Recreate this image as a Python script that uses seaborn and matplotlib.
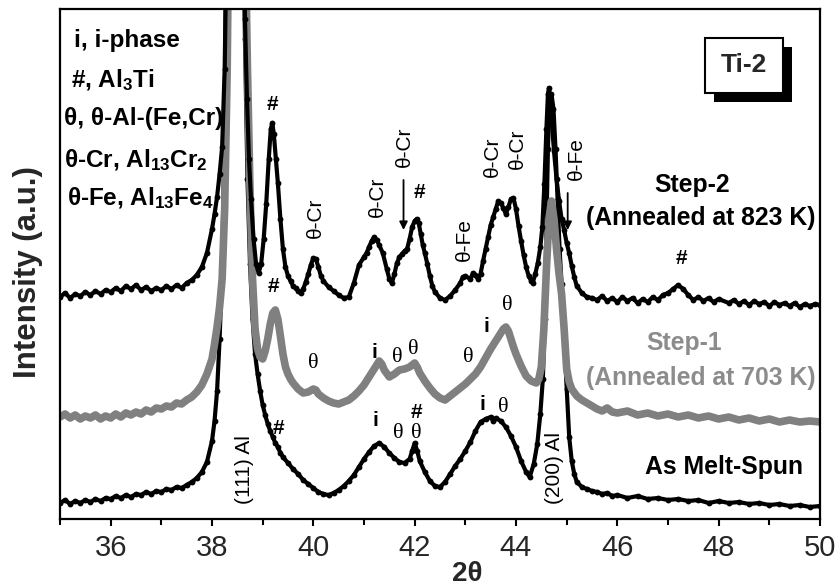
import matplotlib
matplotlib.use("Agg")
import matplotlib.pyplot as plt
from matplotlib.patches import Rectangle
from matplotlib.ticker import MultipleLocator
import numpy as np
import pandas as pd
import seaborn as sns

# ---- XRD patterns (2theta in degrees, intensity in arbitrary units) ----
two_theta_step2 = [
    35.0, 35.1, 35.2, 35.3, 35.4, 35.5, 35.6, 35.7, 35.8, 35.9, 36.0, 36.1, 36.2, 36.3, 36.4, 36.5,
    36.6, 36.7, 36.8, 36.9, 37.0, 37.1, 37.2, 37.3, 37.4, 37.5, 37.6, 37.7, 37.8, 37.9, 38.0, 38.05,
    38.1, 38.15, 38.2, 38.25, 38.3, 38.35, 38.4, 38.45, 38.5, 38.55, 38.6, 38.65, 38.69, 38.73, 38.77,
    38.82, 38.87, 38.92, 38.97, 39.02, 39.07, 39.12, 39.16, 39.19, 39.22, 39.26, 39.3, 39.35, 39.4,
    39.45, 39.5, 39.55, 39.6, 39.65, 39.7, 39.75, 39.8, 39.85, 39.9, 39.95, 40.0, 40.05, 40.1, 40.15,
    40.2, 40.3, 40.4, 40.5, 40.6, 40.7, 40.8, 40.9, 41.0, 41.05, 41.1, 41.15, 41.2, 41.25, 41.3, 41.37,
    41.45, 41.5, 41.55, 41.6, 41.65, 41.7, 41.75, 41.8, 41.85, 41.9, 41.95, 42.0, 42.04, 42.08, 42.12,
    42.16, 42.2, 42.25, 42.3, 42.35, 42.4, 42.5, 42.6, 42.7, 42.8, 42.9, 42.95, 43.0, 43.1, 43.15, 43.2,
    43.25, 43.3, 43.35, 43.4, 43.45, 43.5, 43.55, 43.6, 43.65, 43.7, 43.75, 43.8, 43.85, 43.9, 43.95,
    44.0, 44.05, 44.1, 44.15, 44.2, 44.25, 44.3, 44.33, 44.38, 44.43, 44.48, 44.52, 44.56, 44.6, 44.63,
    44.65, 44.68, 44.71, 44.75, 44.8, 44.85, 44.9, 44.95, 45.0, 45.05, 45.1, 45.15, 45.2, 45.3, 45.4,
    45.5, 45.6, 45.7, 45.8, 45.9, 46.0, 46.1, 46.2, 46.3, 46.4, 46.5, 46.6, 46.7, 46.8, 46.9, 47.0,
    47.1, 47.2, 47.3, 47.4, 47.5, 47.6, 47.7, 47.8, 47.9, 48.0, 48.2, 48.3, 48.4, 48.5, 48.6, 48.7,
    48.8, 48.9, 49.0, 49.1, 49.2, 49.3, 49.4, 49.5, 49.6, 49.7, 49.8, 49.9, 50.0,
]
intensity_step2 = [
    222, 226, 221, 225, 223, 227, 224, 228, 225, 229, 227, 231, 228, 233, 230, 234,
    229, 232, 228, 231, 229, 233, 230, 234, 231, 236, 239, 244, 252, 266, 290, 305,
    322, 345, 372, 450, 620, 900, 1300, 1500, 1350, 1000, 700, 500, 420, 360, 320,
    280, 255, 246, 255, 280, 315, 360, 390, 396, 385, 360, 336, 300, 270,
    252, 243, 238, 233, 231, 228, 226, 230, 237, 245, 254, 261, 260, 252, 243,
    238, 232, 228, 224, 221, 222, 236, 254, 262, 266, 272, 278, 282, 279, 274, 266,
    250, 240, 236, 245, 256, 262, 265, 268, 270, 280, 292, 298, 300, 296, 285,
    274, 266, 255, 243, 233, 227, 221, 219, 223, 229, 236, 242, 243, 240, 246, 244,
    240, 245, 258, 270, 282, 294, 302, 310, 318, 316, 311, 305, 312, 320, 321,
    310, 293, 278, 264, 252, 243, 238, 236, 245, 256, 272, 292, 335, 390, 425,
    431, 420, 395, 368, 340, 318, 300, 289, 276, 266, 253, 242, 233, 226, 222,
    221, 219, 223, 218, 221, 217, 222, 218, 221, 216, 220, 217, 222, 219, 224, 226,
    230, 234, 230, 224, 219, 222, 218, 221, 217, 220, 216, 219, 215, 218, 214, 218,
    215, 217, 213, 217, 214, 216, 213, 216, 212, 215, 213, 215, 214,
]

two_theta_step1 = [
    35.0, 35.1, 35.2, 35.3, 35.4, 35.5, 35.6, 35.7, 35.8, 35.9, 36.0, 36.1, 36.2, 36.3, 36.4, 36.5,
    36.6, 36.7, 36.8, 36.9, 37.0, 37.1, 37.2, 37.3, 37.4, 37.5, 37.6, 37.7, 37.8, 37.9, 38.0, 38.05,
    38.1, 38.15, 38.2, 38.25, 38.3, 38.35, 38.4, 38.45, 38.5, 38.55, 38.6, 38.65, 38.7, 38.75, 38.8,
    38.85, 38.9, 38.95, 39.0, 39.05, 39.1, 39.15, 39.2, 39.25, 39.3, 39.35, 39.4, 39.45, 39.5, 39.55,
    39.6, 39.7, 39.8, 39.9, 40.0, 40.05, 40.1, 40.2, 40.3, 40.4, 40.5, 40.6, 40.7, 40.8, 40.9, 41.0,
    41.1, 41.2, 41.3, 41.35, 41.4, 41.5, 41.6, 41.7, 41.8, 41.9, 42.0, 42.05, 42.1, 42.2, 42.3, 42.4,
    42.5, 42.6, 42.7, 42.8, 42.9, 43.0, 43.1, 43.2, 43.3, 43.4, 43.5, 43.6, 43.7, 43.75, 43.8, 43.85,
    43.9, 43.95, 44.0, 44.1, 44.2, 44.3, 44.4, 44.45, 44.5, 44.55, 44.6, 44.65, 44.7, 44.75, 44.8,
    44.85, 44.9, 44.95, 45.0, 45.05, 45.1, 45.2, 45.3, 45.4, 45.5, 45.6, 45.7, 45.8, 45.9, 46.0, 46.2,
    46.4, 46.6, 46.8, 47.0, 47.2, 47.4, 47.6, 47.8, 48.0, 48.2, 48.4, 48.6, 48.8, 49.0, 49.2, 49.4,
    49.6, 49.8, 50.0,
]
intensity_step1 = [
    102, 105, 101, 104, 100, 103, 101, 104, 100, 103, 101, 105, 102, 106, 104, 107,
    105, 109, 107, 111, 110, 113, 112, 116, 115, 119, 122, 127, 134, 145, 160, 175,
    192, 212, 240, 310, 450, 700, 1100, 1300, 1150, 1000, 800, 600, 450, 330, 240,
    190, 170, 162, 160, 168, 180, 195, 206, 209, 200, 183, 165, 152, 145, 140,
    136, 130, 126, 127, 130, 129, 125, 121, 118, 116, 115, 117, 119, 123, 128, 134,
    142, 150, 158, 155, 149, 142, 145, 149, 150, 152, 156, 152, 146, 138, 131, 125,
    121, 119, 123, 127, 131, 135, 140, 145, 152, 161, 170, 178, 186, 190, 192, 188,
    180, 172, 165, 153, 143, 138, 136, 140, 152, 190, 250, 300, 318, 300, 270,
    245, 225, 190, 150, 137, 130, 123, 119, 116, 113, 110, 108, 111, 107, 106, 108,
    104, 106, 103, 105, 102, 104, 101, 103, 100, 102, 99, 101, 98, 100, 97, 99,
    97, 98, 97,
]

two_theta_melt = [
    35.0, 35.1, 35.2, 35.3, 35.4, 35.5, 35.6, 35.7, 35.8, 35.9, 36.0, 36.1, 36.2, 36.3, 36.4, 36.5,
    36.6, 36.7, 36.8, 36.9, 37.0, 37.1, 37.2, 37.3, 37.4, 37.5, 37.6, 37.7, 37.8, 37.9, 38.0, 38.05,
    38.1, 38.15, 38.2, 38.25, 38.3, 38.35, 38.4, 38.45, 38.5, 38.55, 38.6, 38.65, 38.7, 38.75, 38.8,
    38.85, 38.9, 38.95, 39.0, 39.05, 39.1, 39.15, 39.2, 39.25, 39.3, 39.35, 39.4, 39.5, 39.6, 39.7,
    39.8, 39.9, 40.0, 40.1, 40.2, 40.3, 40.4, 40.5, 40.6, 40.7, 40.8, 40.9, 41.0, 41.1, 41.2, 41.3,
    41.4, 41.5, 41.6, 41.7, 41.8, 41.9, 41.95, 42.0, 42.05, 42.1, 42.2, 42.3, 42.4, 42.5, 42.6, 42.7,
    42.8, 42.9, 43.0, 43.1, 43.2, 43.3, 43.4, 43.5, 43.55, 43.6, 43.7, 43.8, 43.9, 44.0, 44.1, 44.2,
    44.27, 44.35, 44.42, 44.48, 44.53, 44.57, 44.6, 44.63, 44.66, 44.7, 44.74, 44.78, 44.82, 44.86,
    44.9, 44.95, 45.0, 45.05, 45.1, 45.15, 45.2, 45.3, 45.4, 45.5, 45.6, 45.7, 45.8, 45.9, 46.0, 46.2,
    46.4, 46.6, 46.8, 47.0, 47.2, 47.4, 47.6, 47.8, 48.0, 48.2, 48.4, 48.6, 48.8, 49.0, 49.2, 49.4,
    49.6, 49.8, 50.0,
]
intensity_melt = [
    16, 19, 15, 18, 16, 19, 17, 20, 18, 21, 20, 23, 21, 24, 22, 25,
    24, 27, 25, 28, 27, 30, 29, 32, 31, 34, 37, 41, 47, 57, 78, 98,
    128, 180, 250, 400, 700, 1100, 1500, 1600, 1400, 1000, 700, 480, 340, 255, 200,
    165, 145, 128, 114, 104, 95, 88, 82, 76, 72, 66, 62, 56, 50, 45,
    39, 35, 31, 27, 25, 24, 26, 29, 33, 38, 44, 52, 60, 67, 73, 76,
    72, 66, 61, 57, 56, 60, 68, 76, 68, 58, 47, 38, 33, 32, 37, 45,
    53, 60, 68, 77, 88, 97, 100, 102, 98, 101, 98, 92, 83, 72, 58, 47,
    42, 55, 75, 105, 140, 200, 290, 370, 415, 425, 410, 370, 320, 270,
    235, 180, 130, 82, 58, 45, 37, 32, 30, 28, 27, 25, 26, 23, 24, 21,
    23, 20, 21, 19, 20, 18, 19, 16, 18, 16, 17, 15, 16, 14, 15, 13,
    14, 12, 13,
]

sample_names = ["As Melt-Spun", "Step-1", "Step-2"]
sample_colors = ["#000000", "#808080", "#000000"]

plt.rcParams["figure.dpi"] = 100
sns.set_style("white")
plt.rcParams["font.family"] = ["Liberation Sans", "DejaVu Sans"]
plt.rcParams["mathtext.fontset"] = "custom"
plt.rcParams["mathtext.rm"] = "Liberation Sans:bold"
plt.rcParams["mathtext.default"] = "rm"

frames = []
for name, xs, ys in [("As Melt-Spun", two_theta_melt, intensity_melt),
                     ("Step-1", two_theta_step1, intensity_step1),
                     ("Step-2", two_theta_step2, intensity_step2)]:
    frames.append(pd.DataFrame({"two_theta": xs, "intensity": ys, "sample": name}))
df = pd.concat(frames, ignore_index=True)

fig = plt.figure(figsize=(8.38, 5.87), dpi=100)
ax = fig.add_axes([60 / 838, 68 / 587, 760 / 838, 510 / 587])

line_style = {
    "As Melt-Spun": dict(lw=3.0, marker="o", ms=4.2, mew=0),
    "Step-1": dict(lw=5.5, marker=None),
    "Step-2": dict(lw=3.0, marker="o", ms=4.2, mew=0),
}
for name, color in zip(sample_names, sample_colors):
    sub = df[df["sample"] == name]
    sns.lineplot(data=sub, x="two_theta", y="intensity", ax=ax, color=color,
                 estimator=None, sort=False, legend=False, **line_style[name])

ax.set_xlim(35, 50)
ax.set_ylim(0, 510)
ax.set_yticks([])
ax.xaxis.set_major_locator(MultipleLocator(2))
ax.xaxis.set_minor_locator(MultipleLocator(1))
ax.tick_params(axis="x", which="major", direction="out", length=5, width=1.5,
               labelsize=21, pad=6, bottom=True, color="black")
ax.tick_params(axis="x", which="minor", direction="out", length=4, width=1.5,
               bottom=True, color="black")
for sp in ax.spines.values():
    sp.set_visible(True)
    sp.set_linewidth(1.6)
    sp.set_color("black")

ax.set_xlabel("2θ", fontsize=20, fontweight="bold", va="baseline")
ax.xaxis.set_label_coords(0.536, (519 - 581) / 510)
ax.set_ylabel("Intensity (a.u.)", fontsize=22.5, fontweight="bold")
ax.yaxis.set_label_coords(-0.022, 0.484)

# phase key
key_font = dict(fontsize=17.5, fontweight="bold", ha="left", va="center", color="black")
ax.text(35.27, 479, "i, i-phase", **key_font)
ax.text(35.21, 439, "#, Al$_3$Ti", **key_font)
ax.text(35.07, 401, "θ, θ-Al-(Fe,Cr)", **key_font)
ax.text(35.07, 359, "θ-Cr, Al$_{13}$Cr$_2$", **key_font)
ax.text(35.13, 321, "θ-Fe, Al$_{13}$Fe$_4$", **key_font)

# sample captions
cap = dict(fontsize=17.8, fontweight="bold", ha="center", va="center")
ax.text(47.48, 334, "Step-2", color="black", **cap)
ax.text(47.64, 301, "(Annealed at 823 K)", color="black", **cap)
ax.text(47.32, 176, "Step-1", color="#8c8c8c", **cap)
ax.text(47.64, 141, "(Annealed at 703 K)", color="#8c8c8c", **cap)
ax.text(48.11, 52, "As Melt-Spun", color="black", **cap)

# reflections marked on the Step-2 pattern
rot = dict(fontsize=15, rotation=90, ha="center", va="center", color="black")
hash_kw = dict(fontsize=15, fontweight="bold", ha="center", va="center", color="black")
ax.text(39.19, 414, "#", **hash_kw)
ax.text(40.05, 301, "θ-Cr", **rot)
ax.text(41.26, 322, "θ-Cr", **rot)
ax.text(41.79, 372, "θ-Cr", **rot)
ax.text(42.10, 327, "#", **hash_kw)
ax.text(42.99, 279, "θ-Fe", **rot)
ax.text(43.54, 362, "θ-Cr", **rot)
ax.text(44.03, 370, "θ-Cr", **rot)
ax.text(45.20, 360, "θ-Fe", **rot)
ax.text(47.27, 261, "#", **hash_kw)
arrow = dict(arrowstyle="-|>", color="black", lw=1.3, mutation_scale=12, shrinkA=0, shrinkB=0)
ax.annotate("", xy=(41.78, 289), xytext=(41.78, 339), arrowprops=arrow)
ax.annotate("", xy=(45.02, 289), xytext=(45.02, 326), arrowprops=arrow)

# reflections marked on the Step-1 pattern
th_kw = dict(fontsize=16, family=["Liberation Serif", "DejaVu Serif"], ha="center", va="center", color="black")
i_kw = dict(fontsize=15, fontweight="bold", ha="center", va="center", color="black")
ax.text(39.21, 232, "#", **hash_kw)
ax.text(40.00, 156, "θ", **th_kw)
ax.text(41.20, 166, "i", **i_kw)
ax.text(41.65, 162, "θ", **th_kw)
ax.text(41.97, 169, "θ", **th_kw)
ax.text(43.05, 162, "θ", **th_kw)
ax.text(43.42, 192, "i", **i_kw)
ax.text(43.82, 214, "θ", **th_kw)

# reflections marked on the as melt-spun pattern
ax.text(39.31, 91, "#", **hash_kw)
ax.text(41.22, 99, "i", **i_kw)
ax.text(41.67, 86, "θ", **th_kw)
ax.text(42.04, 107, "#", **hash_kw)
ax.text(42.04, 86, "θ", **th_kw)
ax.text(43.34, 114, "i", **i_kw)
ax.text(43.74, 112, "θ", **th_kw)
al_kw = dict(fontsize=15, rotation=90, ha="center", va="center", color="black")
ax.text(38.64, 49, "(111) Al", **al_kw)
ax.text(44.76, 51, "(200) Al", **al_kw)

# sample tag with drop shadow
bx0, bx1 = (705 - 60) / 760, (783 - 60) / 760
by0, by1 = (519 - 93) / 510, (519 - 38) / 510
dx, dy = 9 / 760, -9 / 510
ax.add_patch(Rectangle((bx0 + dx, by0 + dy), bx1 - bx0, by1 - by0, transform=ax.transAxes,
                       facecolor="black", edgecolor="black", lw=0, zorder=5))
ax.add_patch(Rectangle((bx0, by0), bx1 - bx0, by1 - by0, transform=ax.transAxes,
                       facecolor="white", edgecolor="black", lw=1.5, zorder=6))
ax.text((bx0 + bx1) / 2, (by0 + by1) / 2, "Ti-2", transform=ax.transAxes, fontsize=19,
        fontweight="bold", ha="center", va="center", zorder=7)

fig.savefig("out.png", dpi=100)
